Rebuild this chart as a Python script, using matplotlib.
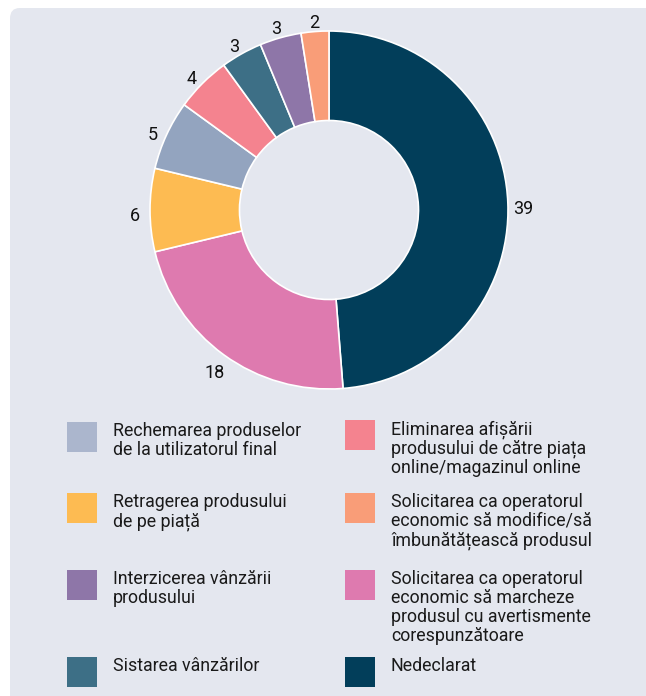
import matplotlib.pyplot as plt
import matplotlib.patches as patches
import numpy as np

# data (clockwise from 12 o'clock)
values = [39, 18, 6, 5, 4, 3, 3, 2]
wedge_colors = ['#023e5a', '#de7aaf', '#fdbb52', '#93a4bf', '#f4838f', '#3d6f86', '#8e76a8', '#f99d78']

# legend entries, listed row by row (left, right)
legend_labels = [
    'Rechemarea produselor\nde la utilizatorul final',
    'Eliminarea afișării\nprodusului de către piața\nonline/magazinul online',
    'Retragerea produsului\nde pe piață',
    'Solicitarea ca operatorul\neconomic să modifice/să\nîmbunătățească produsul',
    'Interzicerea vânzării\nprodusului',
    'Solicitarea ca operatorul\neconomic să marcheze\nprodusul cu avertismente\ncorespunzătoare',
    'Sistarea vânzărilor',
    'Nedeclarat',
]
legend_colors = ['#abb6cd', '#f4838f', '#fdbb52', '#f99d78', '#8e76a8', '#de7aaf', '#3d6f86', '#023e5a']

FONT = 'Roboto'
W, H = 646, 696
fig = plt.figure(figsize=(W / 100, H / 100), dpi=100)
fig.patch.set_facecolor('white')

# light panel behind the chart
panel = patches.FancyBboxPatch((10 / W, -0.05), 1.2, 1.05 - 8 / H,
                               boxstyle='round,pad=0,rounding_size=0.015',
                               transform=fig.transFigure, facecolor='#e4e7ef',
                               edgecolor='none', zorder=-10)
fig.patches.append(panel)

# donut axes: centre at (329, 210) px, outer radius 179 px
R = 179
S = 2.5 * R
cx, cy = 329, H - 210
ax = fig.add_axes([(cx - S / 2) / W, (cy - S / 2) / H, S / W, S / H])
ax.set_zorder(5)
ax.axis('off')

wedges, _ = ax.pie(values, colors=wedge_colors, startangle=90, counterclock=False,
                   radius=1.0, wedgeprops=dict(width=0.5, edgecolor='white', linewidth=1.2))
ax.set_xlim(-1.25, 1.25)
ax.set_ylim(-1.25, 1.25)
ax.set_aspect('equal')

# value labels just outside the ring
total = sum(values)
start = 90
for v in values:
    mid = np.deg2rad(start - v / total * 360 / 2)
    start -= v / total * 360
    ax.text(1.085 * np.cos(mid), 1.085 * np.sin(mid) - 0.035, str(v), ha='center', va='center',
            fontsize=13, family=FONT, color='#111111')

# legend
col_sq_x = [67, 345]
col_tx_x = [113, 391]
row_top = [422, 493, 570, 657]
sq = 30
for i, (lab, col) in enumerate(zip(legend_labels, legend_colors)):
    r, c = divmod(i, 2)
    top = row_top[r] - (2 if c == 1 and r == 0 else 0)
    fig.patches.append(patches.Rectangle((col_sq_x[c] / W, (H - top - sq) / H), sq / W, sq / H,
                                         transform=fig.transFigure, facecolor=col,
                                         edgecolor='none', zorder=2))
    fig.text(col_tx_x[c] / W, (H - top) / H, lab, ha='left', va='top',
             fontsize=12.8, family=FONT, color='#1a1a1a', linespacing=1.07)

fig.savefig('out.png', dpi=100, facecolor='white')
